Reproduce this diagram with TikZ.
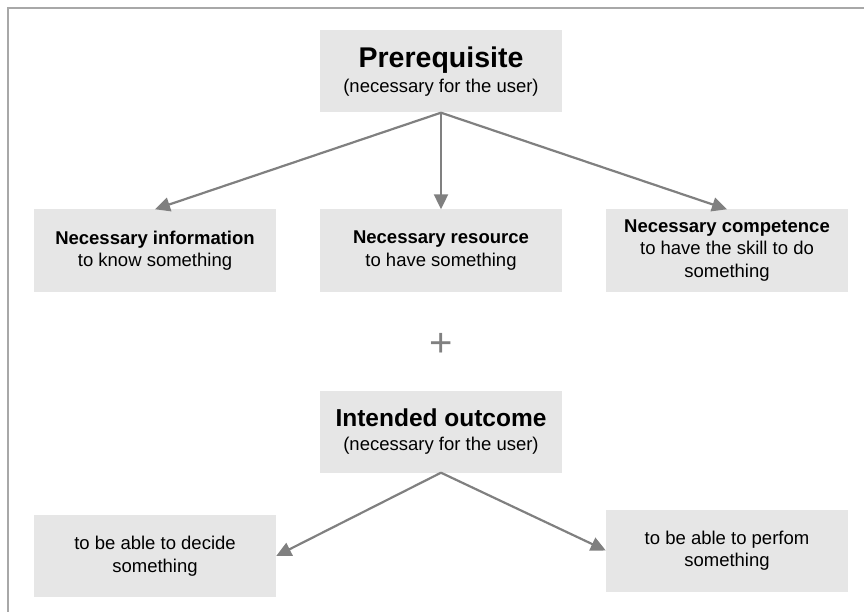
\documentclass[tikz,border=0pt]{standalone}
\usepackage{fontspec}
\setmainfont{Liberation Sans}
\usetikzlibrary{arrows.meta,calc}
\definecolor{boxgray}{HTML}{E6E6E6}
\definecolor{arrgray}{HTML}{808080}
\definecolor{framegray}{HTML}{A8A8A8}
\begin{document}
\begin{tikzpicture}[x=1pt,y=-1pt,
  box/.style={fill=boxgray, draw=none, align=center, inner sep=0pt,
    minimum width=242pt, minimum height=82pt,
    font=\fontsize{18.5}{22.5}\selectfont},
  arr/.style={draw=arrgray, line width=2.2pt, -{Triangle[length=15pt,width=14pt]}}]
\useasboundingbox (0,0) rectangle (864,612);
\draw[framegray, line width=2pt] (864,8) -- (8,8) -- (8,612);

\node[box] (pre) at (441,71.5) {{\fontsize{28.5}{30}\selectfont\bfseries Prerequisite}\\[2pt](necessary for the user)};
\node[box] (info) at (155,250.5) {\textbf{Necessary information}\\to know something};
\node[box] (res) at (441,250.5) {\textbf{Necessary resource}\\to have something};
\node[box] (comp) at (727,250.5) {\textbf{Necessary competence}\\to have the skill to do\\something};
\node[text=arrgray, font=\fontsize{40}{40}\selectfont, inner sep=0pt] (plus) at (441,345) {+};
\node[box] (out) at (441,431.5) {{\fontsize{24.5}{26}\selectfont\bfseries Intended outcome}\\[2pt](necessary for the user)};
\node[box] (decide) at (155,556) {to be able to decide\\something};
\node[box] (perform) at (727,550.5) {to be able to perfom\\something};

\draw[arr] (pre.south) -- (info.north);
\draw[arr] (pre.south) -- (res.north);
\draw[arr] (pre.south) -- (comp.north);
\draw[arr] (out.south) -- (decide.east);
\draw[arr] (out.south) -- (perform.west);
\end{tikzpicture}
\end{document}
